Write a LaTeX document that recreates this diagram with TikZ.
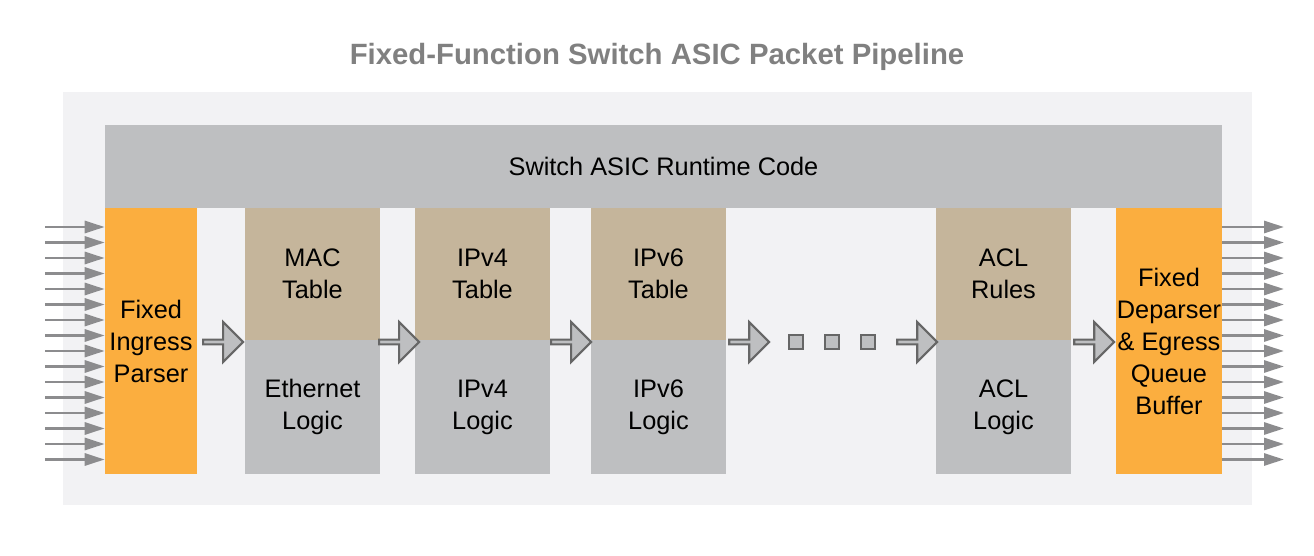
\documentclass[tikz,border=0pt]{standalone}
\usepackage{fontspec}
\setmainfont{Liberation Sans}
\usetikzlibrary{arrows.meta, shapes.arrows}

\definecolor{bgpanel}{RGB}{242,242,244}
\definecolor{runtime}{RGB}{190,191,193}
\definecolor{parser}{RGB}{251,174,63}
\definecolor{tabletan}{RGB}{197,181,155}
\definecolor{logicgray}{RGB}{190,191,193}
\definecolor{titlegray}{RGB}{128,128,128}
\definecolor{wiregray}{RGB}{140,140,142}

\begin{document}
\begin{tikzpicture}[
            x = 0.75pt, y = -0.75pt, % pixel grid
            > = {Triangle[length=15pt, width=9pt]}, % arrow head style
            box/.style = {draw = none, inner sep = 0pt, align = center,
                font = \fontsize{19}{24}\selectfont},
            wire/.style = {->, draw = wiregray, line width = 2.2pt},
            stagearrow/.style = {single arrow, draw = black!60, fill = runtime,
                line width = 1.6pt, minimum height = 30pt,
                single arrow head extend = 6pt, minimum width = 30pt,
                inner sep = 0pt}
        ]

        \useasboundingbox (0,0) rectangle (1314,556);

        \fill[bgpanel] (63,92) rectangle (1252,505);
        \node[font = \bfseries\fontsize{22}{26}\selectfont, text = titlegray]
            (title) at (657,57) {Fixed-Function Switch ASIC Packet Pipeline};

        \node[box, fill = runtime, minimum width = 837.75pt, minimum height = 62.25pt]
            (runtime) at (663.5,166.5) {Switch ASIC Runtime Code};

        % parser and deparser
        \node[box, fill = parser, minimum width = 69pt, minimum height = 199.5pt]
            (parser) at (151,341) {Fixed\\Ingress\\Parser};
        \node[box, fill = parser, minimum width = 79.5pt, minimum height = 199.5pt]
            (deparser) at (1169,341) {Fixed\\Deparser\\\& Egress\\Queue\\Buffer};

        % table stages
        \foreach \name/\cx/\tab/\logic in {mac/312.5/MAC\\Table/Ethernet\\Logic,
                ipv4/482.5/IPv4\\Table/IPv4\\Logic,
                ipv6/658.5/IPv6\\Table/IPv6\\Logic,
                acl/1003.5/ACL\\Rules/ACL\\Logic} {
            \node[box, fill = tabletan, minimum width = 101.25pt, minimum height = 99pt]
                (\name-t) at (\cx,274) {\tab};
            \node[box, fill = logicgray, minimum width = 101.25pt, minimum height = 100.5pt]
                (\name-l) at (\cx,407) {\logic};
        }

        % stage arrows
        \node[stagearrow] (s1) at (222,342) {};
        \node[stagearrow] (s2) at (398,342) {};
        \node[stagearrow] (s3) at (570,342) {};
        \node[stagearrow] (s4) at (748,342) {};
        \node[stagearrow] (s5) at (916,342) {};
        \node[stagearrow] (s6) at (1093,342) {};

        \foreach \i/\cx in {1/796,2/832,3/868}
            \node[draw = black!60, fill = runtime, line width = 1.6pt,
                minimum size = 10pt, inner sep = 0pt] (dot\i) at (\cx,342) {};

        % packet wires
        \foreach \i in {0,...,15} {
            \coordinate (in\i) at (45,227+15.5*\i);
            \coordinate (out\i) at (1284,227+15.5*\i);
            \draw[wire] (in\i) -- (in\i -| parser.west);
            \draw[wire] (deparser.east |- out\i) -- (out\i);
        }

\end{tikzpicture}
\end{document}
